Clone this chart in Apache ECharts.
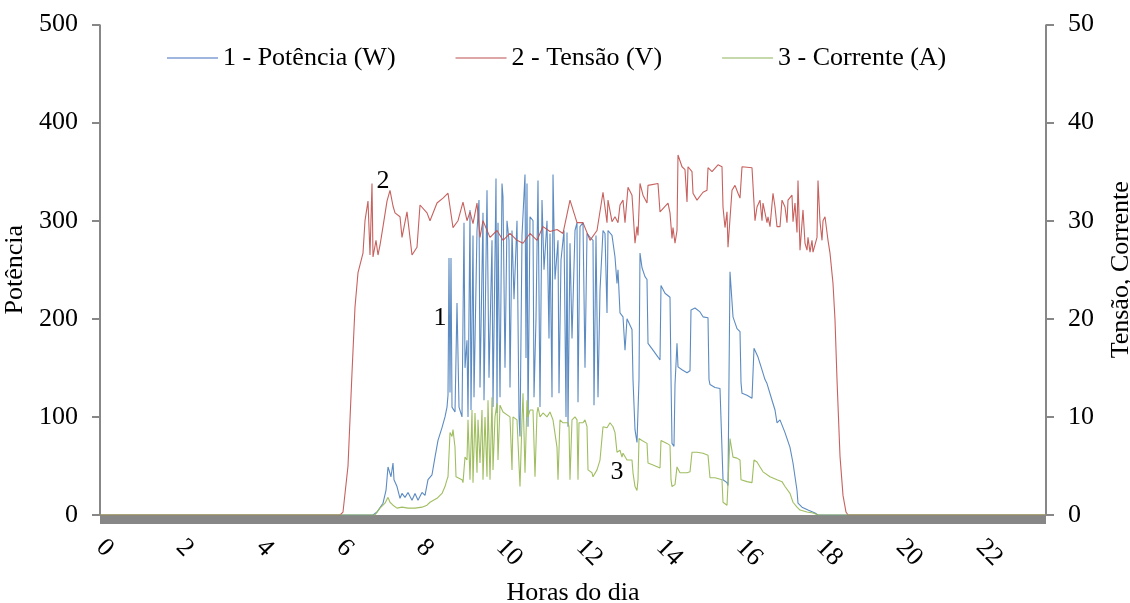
<!DOCTYPE html>
<html>
<head>
<meta charset="utf-8">
<script src="https://cdn.jsdelivr.net/npm/echarts@6/dist/echarts.min.js"></script>
<style>
html,body{margin:0;padding:0;background:#fff;}
#chart{width:1130px;height:603px;}
</style>
</head>
<body>
<div id="chart"></div>
<script>
// ---- Data (hours of day) ----
const xTickLabels = ['0','2','4','6','8','10','12','14','16','18','20','22'];
const seriesNames = ['1 - Potência (W)', '2 - Tensão (V)', '3 - Corrente (A)'];

// 1 - Potência (W), left axis
const potenciaHoras = [0,6.825,6.925,7.075,7.15,7.2,7.275,7.325,7.35,7.425,7.5,7.55,7.625,7.7,7.8,7.875,7.95,8.05,8.125,8.2,8.3,8.375,8.45,8.55,8.625,8.675,8.7,8.725,8.75,8.775,8.8,8.875,8.925,8.975,9.05,9.1,9.125,9.175,9.2,9.25,9.275,9.325,9.35,9.425,9.475,9.5,9.575,9.6,9.675,9.725,9.8,9.825,9.9,9.925,9.95,10.0,10.05,10.075,10.125,10.175,10.225,10.25,10.3,10.35,10.425,10.475,10.5,10.55,10.625,10.65,10.675,10.7,10.75,10.825,10.85,10.9,10.95,11.0,11.05,11.1,11.175,11.225,11.25,11.3,11.325,11.375,11.45,11.475,11.525,11.6,11.65,11.675,11.7,11.75,11.8,11.875,11.925,11.95,12.0,12.075,12.125,12.175,12.25,12.325,12.35,12.4,12.45,12.5,12.575,12.625,12.675,12.7,12.8,12.875,12.925,12.95,13.0,13.075,13.125,13.175,13.3,13.325,13.375,13.425,13.475,13.5,13.55,13.625,13.675,13.7,13.825,13.95,14.0,14.025,14.125,14.25,14.275,14.3,14.35,14.375,14.425,14.45,14.55,14.675,14.75,14.775,14.875,15.0,15.075,15.2,15.225,15.25,15.375,15.5,15.55,15.575,15.675,15.7,15.725,15.75,15.825,15.925,16.0,16.025,16.05,16.175,16.3,16.35,16.45,16.55,16.625,16.675,16.8,16.875,16.925,17.0,17.125,17.25,17.325,17.425,17.45,17.55,17.7,17.875,17.95,23.65];
const potenciaW = [0,0,3,12,25,49,39,53,36,29,17,22,18,23,15,22,15,23,20,36,41,59,76,89,100,110,122,262,125,262,110,105,216,110,100,298,150,178,100,311,107,285,120,290,321,130,308,117,331,140,280,110,343,104,298,120,338,324,150,300,280,130,290,220,300,100,80,285,347,160,338,90,304,300,120,200,341,110,321,250,300,180,287,120,347,240,280,124,260,290,100,288,90,277,180,290,298,115,294,298,150,287,283,280,112,285,120,229,290,287,206,290,285,263,236,250,206,202,168,200,189,138,87,74,138,267,252,243,240,175,168,161,158,234,226,222,140,73,70,133,175,151,148,145,147,209,211,207,202,201,138,133,130,129,127,36,33,30,140,248,202,190,187,135,124,122,119,170,161,148,138,134,117,107,94,97,84,69,53,25,12,8,5,2,0,0];

// 2 - Tensão (V), right axis
const tensaoHoras = [0,6.0,6.075,6.2,6.3,6.375,6.45,6.575,6.625,6.7,6.75,6.8,6.825,6.9,6.95,7.0,7.075,7.175,7.25,7.325,7.375,7.5,7.55,7.675,7.8,7.925,8.0,8.175,8.25,8.425,8.575,8.7,8.75,8.825,8.95,9.075,9.175,9.25,9.325,9.425,9.5,9.575,9.75,9.925,10.075,10.25,10.425,10.575,10.75,10.925,11.075,11.25,11.425,11.575,11.75,11.925,12.075,12.25,12.425,12.575,12.675,12.7,12.8,12.875,12.95,13.0,13.075,13.125,13.2,13.3,13.375,13.425,13.45,13.5,13.575,13.675,13.7,13.95,14.0,14.2,14.25,14.3,14.325,14.375,14.425,14.45,14.55,14.625,14.675,14.7,14.8,14.825,14.925,15.075,15.175,15.2,15.3,15.45,15.55,15.575,15.625,15.675,15.7,15.8,15.875,15.95,16.0,16.05,16.3,16.375,16.425,16.5,16.55,16.575,16.625,16.675,16.7,16.75,16.825,16.875,16.925,17.0,17.05,17.125,17.175,17.2,17.3,17.325,17.375,17.425,17.45,17.5,17.575,17.625,17.675,17.7,17.75,17.8,17.825,17.925,17.95,18.0,18.05,18.075,18.125,18.175,18.2,18.25,18.325,18.375,18.425,18.5,18.575,18.65,18.7,23.65];
const tensaoV = [0,0,0.3,5,14.5,21.2,24.7,26.7,30,32,26.5,33.8,26.3,28,26.5,27.5,29.4,32,33.1,31.5,30.8,30.4,28.3,30.9,26.5,27.3,31.6,30.8,30,31.8,32.3,32.8,31.4,29.3,30,31.9,30,30.9,29.7,31.8,28.3,30,28.3,29,28,28.7,28,27.7,28.7,28,29.4,28.9,29.1,28.7,32.1,29.8,29.8,28,29,32.9,29.8,32.1,29.9,30.4,29.8,31.6,32.1,29.8,33.4,32.6,27.7,29.4,28.5,33.8,32.6,31.8,33.6,33.8,30.9,31.8,30.8,28.2,29.3,27.7,29,36.7,35.5,35.2,31.9,35.5,35,32.8,32.1,32.9,33.1,35.4,35,35.7,35.5,31.4,29.3,30.9,27.3,33.1,33.6,32.8,32.3,35.5,35.4,30,31.4,32.1,30,31.8,30.8,29.8,30.4,29.4,32.8,31.4,29.4,29.4,32.1,31.4,29.8,32.1,32.6,29.9,31.8,28.8,34.1,27,31.1,27.7,27,28.3,26.8,28,26.8,28.3,34.1,29.9,28,30,30.4,28.8,28,26.7,23.6,19.9,13.8,6,2,0.3,0,0];

// 3 - Corrente (A), right axis
const correnteHoras = [0,6.875,7.0,7.125,7.2,7.25,7.325,7.425,7.55,7.7,7.875,8.05,8.175,8.25,8.425,8.55,8.625,8.675,8.7,8.75,8.8,8.825,8.875,8.9,8.95,9.05,9.075,9.125,9.175,9.2,9.25,9.3,9.325,9.375,9.425,9.45,9.5,9.55,9.575,9.625,9.675,9.7,9.75,9.8,9.825,9.875,9.925,9.95,10.0,10.05,10.075,10.125,10.25,10.3,10.325,10.425,10.5,10.55,10.575,10.625,10.675,10.7,10.75,10.825,10.875,10.925,10.95,11.0,11.075,11.175,11.25,11.325,11.425,11.45,11.5,11.575,11.7,11.725,11.75,11.8,11.875,11.925,11.95,11.975,12.075,12.125,12.175,12.2,12.3,12.325,12.425,12.5,12.575,12.675,12.75,12.825,12.875,12.925,13.0,13.05,13.075,13.175,13.3,13.325,13.375,13.425,13.45,13.475,13.55,13.675,13.7,13.825,14.0,14.025,14.175,14.25,14.275,14.3,14.375,14.425,14.5,14.675,14.75,14.8,14.925,15.075,15.2,15.25,15.375,15.55,15.575,15.675,15.7,15.75,15.825,15.925,16.0,16.025,16.175,16.3,16.35,16.425,16.5,16.575,16.75,16.925,17.05,17.125,17.25,17.325,17.425,17.5,17.675,17.825,17.95,23.65];
const correnteA = [0,0,0.7,1.2,1.8,1.3,1.0,0.7,0.8,0.7,0.7,0.8,1.0,1.3,1.7,2.2,2.9,3.6,3.9,8.4,8.0,8.7,6.9,3.9,3.9,3.6,3.3,5.9,5.6,9.7,3.6,10.7,3.3,10.4,4.3,9.7,5.3,10.7,3.6,10.0,3.9,11.7,3.6,12.0,4.6,10.0,11.4,5.6,11.2,11.4,10.5,10.4,10.0,4.6,10.0,9.7,2.9,9.7,12.4,4.3,11.7,10.0,10.7,10.7,3.9,10.4,11.0,10.0,10.4,10.0,10.5,9.7,6.9,3.6,9.7,9.4,9.4,9.0,3.6,9.7,10.0,9.7,3.6,9.4,9.4,9.7,9.0,4.6,4.3,3.9,4.6,5.6,9.0,8.9,9.4,9.0,8.4,6.4,6.6,5.9,6.3,5.6,5.6,4.3,2.9,2.5,3.6,7.8,7.6,7.3,5.3,5.1,4.8,7.6,7.3,7.1,3.6,2.9,3.1,4.9,4.3,4.3,4.4,6.4,6.4,6.3,6.1,3.8,3.8,3.6,1.3,1.0,1.2,7.8,5.9,5.8,5.6,3.6,3.4,3.3,5.6,5.4,4.9,4.4,3.9,3.6,3.4,2.9,2.2,1.3,0.8,0.5,0.3,0.2,0,0];

// Curve labels (hour, value on the series' axis)
const labelPotencia = [8.5, 201];
const labelTensao = [7.075, 34.0];
const labelCorrente = [12.925, 4.38];

function pairs(h, v) { return h.map((x, i) => [x, v[i]]); }

const FONT = 'Liberation Serif';
const chart = echarts.init(document.getElementById('chart'), null, {renderer: 'canvas'});

function mark(coord, text) {
  return {
    symbol: 'circle', symbolSize: 1, silent: true,
    itemStyle: {color: 'rgba(0,0,0,0)'},
    label: {show: true, position: 'inside', formatter: text, color: '#000', fontFamily: FONT, fontSize: 26},
    data: [{coord: coord}]
  };
}

const option = {
  animation: false,
  backgroundColor: '#fff',
  textStyle: {fontFamily: FONT},
  grid: {left: 100, right: 84, top: 24.5, bottom: 88, containLabel: false, outerBoundsMode: 'none'},
  legend: {
    left: 162, top: 40,
    icon: 'rect', itemWidth: 51, itemHeight: 1.5, itemGap: 60,
    textStyle: {fontFamily: FONT, fontSize: 26, color: '#000'},
    data: seriesNames
  },
  xAxis: {
    type: 'value', min: 0, max: 23.65, interval: 2,
    offset: 4.5,
    name: 'Horas do dia', nameLocation: 'middle', nameGap: 61,
    nameTextStyle: {fontFamily: FONT, fontSize: 26, color: '#000'},
    axisLine: {show: true, onZero: false, lineStyle: {color: '#878787', width: 9, cap: 'butt'}},
    axisTick: {show: false},
    splitLine: {show: false},
    axisLabel: {
      rotate: -45, margin: 24, showMaxLabel: false,
      fontFamily: FONT, fontSize: 26, color: '#000',
      formatter: function (v) { const i = Math.round(v / 2); return (Math.abs(v - i * 2) < 1e-6 && xTickLabels[i] !== undefined) ? xTickLabels[i] : ''; }
    }
  },
  yAxis: [
    {
      type: 'value', min: 0, max: 500, interval: 100, position: 'left',
      name: 'Potência', nameLocation: 'middle', nameGap: 60, nameRotate: 90,
      nameTextStyle: {fontFamily: FONT, fontSize: 26, color: '#000'},
      axisLine: {show: true, lineStyle: {color: '#878787', width: 2, cap: 'butt'}},
      axisTick: {show: true, length: 8, lineStyle: {color: '#878787', width: 2}},
      splitLine: {show: false},
      axisLabel: {margin: 22, fontFamily: FONT, fontSize: 26, color: '#000'}
    },
    {
      type: 'value', min: 0, max: 50, interval: 10, position: 'right',
      name: 'Tensão, Corrente', nameLocation: 'middle', nameGap: 62, nameRotate: 90,
      nameTextStyle: {fontFamily: FONT, fontSize: 26, color: '#000'},
      axisLine: {show: true, lineStyle: {color: '#878787', width: 2, cap: 'butt'}},
      axisTick: {show: true, length: 8, lineStyle: {color: '#878787', width: 2}},
      splitLine: {show: false},
      axisLabel: {margin: 22, fontFamily: FONT, fontSize: 26, color: '#000'}
    }
  ],
  series: [
    {
      name: seriesNames[0], type: 'line', yAxisIndex: 0, showSymbol: false, symbol: 'none',
      itemStyle: {color: '#7F9FD3'},
      lineStyle: {color: '#4A7EBB', width: 1.1, opacity: 0.9},
      data: pairs(potenciaHoras, potenciaW),
      markPoint: mark(labelPotencia, '1')
    },
    {
      name: seriesNames[1], type: 'line', yAxisIndex: 1, showSymbol: false, symbol: 'none',
      itemStyle: {color: '#D08A88'},
      lineStyle: {color: '#C0504D', width: 1.1, opacity: 0.9},
      data: pairs(tensaoHoras, tensaoV),
      markPoint: mark(labelTensao, '2')
    },
    {
      name: seriesNames[2], type: 'line', yAxisIndex: 1, showSymbol: false, symbol: 'none',
      itemStyle: {color: '#B3CC92'},
      lineStyle: {color: '#9BBB59', width: 1.1, opacity: 0.95},
      data: pairs(correnteHoras, correnteA),
      markPoint: mark(labelCorrente, '3')
    }
  ]
};
chart.setOption(option);
</script>
</body>
</html>
